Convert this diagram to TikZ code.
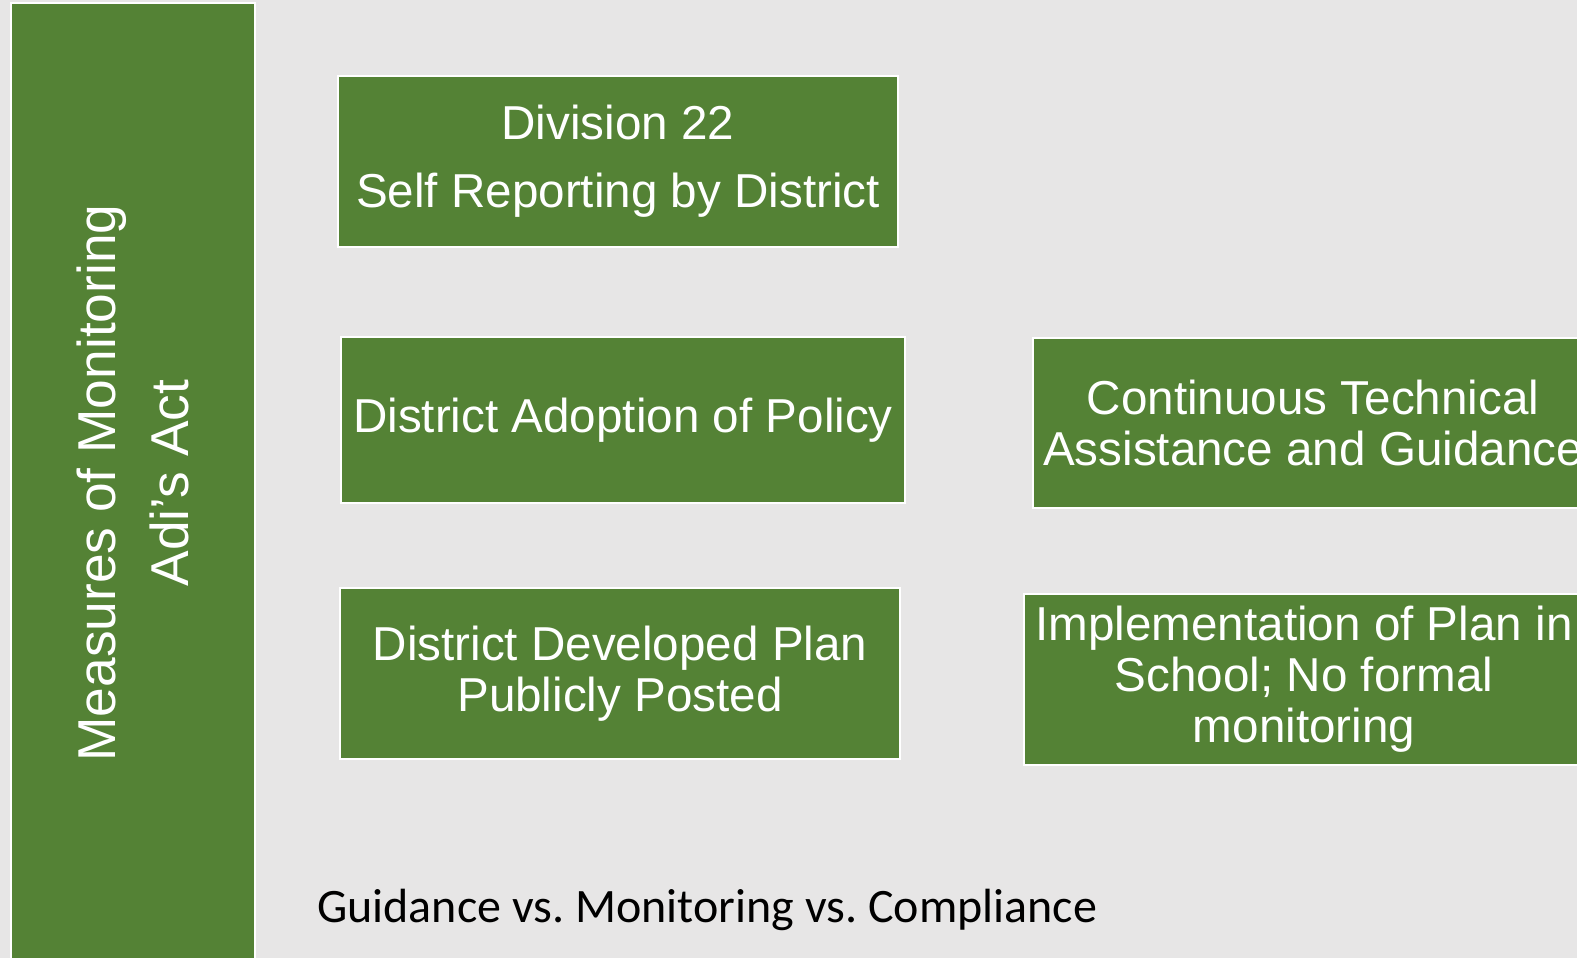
\documentclass[tikz,border=0pt]{standalone}
\usepackage{fontspec}
\setmainfont{Liberation Sans}
\newfontfamily\notefont{Carlito}
\definecolor{slidegray}{HTML}{E7E6E6}
\definecolor{leafgreen}{HTML}{548235}
\frenchspacing

\begin{document}
\begin{tikzpicture}[
        x=1pt, y=-1pt,
        every node/.style={inner sep=0pt},
        panel/.style={rectangle, draw=white, line width=2.5pt, fill=leafgreen, text=white, align=center, font=\fontsize{47.6}{51}\selectfont},
        card/.style={panel, minimum width=560pt, minimum height=170pt}
    ]
 \clip (0,0) rectangle (1577,958);
 \fill[slidegray] (0,0) rectangle (1577,958);
 % side bar
 \node[panel, minimum width=244pt, minimum height=997pt] (bar) at (133,501.5) {};
 \node[rotate=90, text=white, align=center, font=\fontsize{53.3}{73}\selectfont] (barlabel) at (133,483) {Measures of Monitoring\\Adi’s Act};
 % first column
 \node[card, minimum height=171pt] (division) at (618,161.5) {Division 22\\[17pt]Self Reporting by District};
 \node[card, minimum width=564pt, minimum height=166pt] (adoption) at (623,420) {District Adoption of Policy};
 \node[card, minimum height=171pt] (plan) at (620,673.5) {District Developed Plan\\Publicly Posted};
 % second column
 \node[card] (assist) at (1313,423) {Continuous Technical\\Assistance and Guidance};
 \node[card, minimum height=171pt] (school) at (1304,679.5) {Implementation of Plan in\\School; No formal\\monitoring};
 % caption
 \node[anchor=west, font=\notefont\fontsize{48}{52}\selectfont] (note) at (317,910) {Guidance vs. Monitoring vs. Compliance};
\end{tikzpicture}
\end{document}
